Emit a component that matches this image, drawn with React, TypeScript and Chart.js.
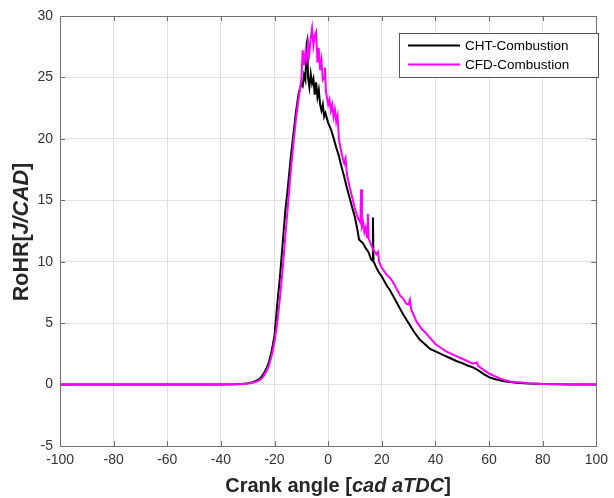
import React, { useEffect, useRef } from "react";
import { Chart, registerables } from "chart.js";

Chart.register(...registerables);

// Crank angle (cad aTDC) and rate of heat release (J/CAD)
const chtAngle = [
  -100, -60, -40, -35, -32, -30, -28, -26, -25, -24, -23, -22, -21, -20, -19, -18, -17, -16, -15, -14, -13, -12, -11, -10,
  -9.5, -9, -8.5, -8, -7.8, -7.5, -7, -6.5, -6, -5.5, -5, -4.5, -4, -3.5, -3, -2.5, -2, -1.5, -1, 0, 1, 2, 3, 4, 5, 6, 7,
  8, 9, 10, 11, 11.5, 12, 13, 14, 15, 16, 16.5, 16.7, 16.9, 17.2, 18, 19, 20, 21, 22, 23, 24, 25, 26, 27, 28, 30, 32, 34,
  36, 38, 40, 42, 44, 46, 48, 50, 52, 54, 56, 58, 60, 62, 64, 66, 68, 70, 75, 80, 90, 100,
];
const chtRoHR = [
  0, 0, 0, 0.02, 0.05, 0.1, 0.2, 0.4, 0.6, 0.9, 1.3, 1.9, 2.8, 4.0, 6.5, 8.7, 11.4, 14.1, 16.1, 18.4, 20.3, 22.2, 23.7, 24.5,
  24.3, 25.2, 24.8, 27.8, 28.0, 25.0, 24.2, 25.3, 24.5, 24.9, 23.6, 24.6, 23.4, 24.0, 22.8, 22.3, 22.8, 21.8, 22.1, 21.3,
  20.8, 20.1, 19.3, 18.6, 17.7, 16.9, 16.0, 15.2, 14.4, 13.6, 12.5, 11.8, 11.7, 11.5, 11.1, 10.8, 10.2, 10.1, 13.6, 10.0,
  9.9, 9.5, 9.1, 8.8, 8.4, 8.0, 7.7, 7.3, 6.9, 6.5, 6.1, 5.7, 5.0, 4.3, 3.7, 3.3, 2.9, 2.7, 2.5, 2.3, 2.1, 1.9, 1.75, 1.55,
  1.4, 1.15, 0.85, 0.6, 0.45, 0.35, 0.25, 0.2, 0.15, 0.08, 0.04, 0.01, 0,
];

const cfdAngle = [
  -100, -60, -40, -35, -32, -30, -28, -26, -25, -24, -23, -22, -21, -20, -19, -18, -17, -16, -15, -14, -13, -12, -11, -10,
  -9.5, -9, -8.5, -8, -7.5, -7, -6.5, -6, -5.5, -5, -4.5, -4, -3.5, -3, -2.5, -2, -1.5, -1.2, -0.8, 0, 0.5, 1, 1.5, 2, 2.5,
  3, 3.5, 4, 5, 6, 6.5, 7, 8, 9, 10, 11, 12, 12.3, 12.6, 13, 13.5, 14, 14.5, 14.8, 15.1, 16, 17, 18, 18.6, 19, 20, 21, 22,
  23, 24, 25, 26, 27, 28, 29, 30, 30.5, 31, 32, 33, 34, 35, 36, 38, 40, 42, 44, 46, 48, 50, 52, 54, 55.5, 56, 58, 60, 62,
  64, 66, 68, 70, 75, 80, 90, 100,
];
const cfdRoHR = [
  0, 0, 0, 0.02, 0.04, 0.08, 0.15, 0.3, 0.45, 0.7, 1.1, 1.6, 2.4, 3.5, 5.0, 7.0, 9.3, 12.0, 14.6, 17.2, 19.5, 21.6, 23.3,
  24.8, 27.2, 26.0, 27.0, 26.4, 27.8, 27.0, 28.2, 29.0, 27.6, 28.4, 28.7, 26.2, 27.4, 25.6, 26.4, 24.8, 25.0, 25.8, 23.8,
  22.8, 23.2, 22.3, 22.8, 21.8, 22.4, 21.4, 21.9, 20.0, 18.8, 18.0, 18.4, 17.1, 16.1, 15.2, 14.3, 13.6, 13.2, 15.9, 12.9,
  13.2, 12.4, 12.8, 12.0, 13.9, 11.9, 11.4, 10.9, 10.6, 10.8, 10.0, 9.5, 9.2, 8.9, 8.7, 8.4, 8.0, 7.6, 7.2, 7.0, 6.6, 6.5,
  6.9, 6.1, 5.6, 5.1, 4.8, 4.5, 4.3, 3.8, 3.3, 3.0, 2.7, 2.5, 2.3, 2.1, 1.9, 1.7, 1.8, 1.5, 1.2, 0.9, 0.7, 0.5, 0.35,
  0.25, 0.2, 0.1, 0.05, 0.02, 0,
];

const seriesNames = ["CHT-Combustion", "CFD-Combustion"];
const seriesColors = ["#000000", "#ff00ff"];
const xTitleParts = [
  { text: "Crank angle [", italic: false },
  { text: "cad aTDC", italic: true },
  { text: "]", italic: false },
];
const yTitleParts = [
  { text: "RoHR[", italic: false },
  { text: "J/CAD", italic: true },
  { text: "]", italic: false },
];

const FONT = "'Liberation Sans', Arial, Helvetica, sans-serif";
const AXIS_COLOR = "#6e6e6e";

function drawParts(ctx: CanvasRenderingContext2D, parts: { text: string; italic: boolean }[], size: number, cx: number, cy: number) {
  const fonts = parts.map((p) => `${p.italic ? "italic " : ""}bold ${size}px ${FONT}`);
  const widths = parts.map((p, i) => {
    ctx.font = fonts[i];
    return ctx.measureText(p.text).width;
  });
  const total = widths.reduce((a, b) => a + b, 0);
  let x = cx - total / 2;
  ctx.textAlign = "left";
  ctx.textBaseline = "middle";
  parts.forEach((p, i) => {
    ctx.font = fonts[i];
    ctx.fillText(p.text, x, cy);
    x += widths[i];
  });
}

const decorPlugin = {
  id: "matlabDecor",
  afterDraw(chart: any) {
    const ctx: CanvasRenderingContext2D = chart.ctx;
    const { left, right, top, bottom } = chart.chartArea;
    const xs = chart.scales.x;
    const ys = chart.scales.y;
    ctx.save();
    // box
    ctx.strokeStyle = AXIS_COLOR;
    ctx.lineWidth = 1;
    ctx.strokeRect(Math.round(left) + 0.5, Math.round(top) + 0.5, Math.round(right - left), Math.round(bottom - top));
    // inward ticks
    const tl = 5;
    ctx.beginPath();
    xs.ticks.forEach((t: any) => {
      const px = Math.round(xs.getPixelForValue(t.value)) + 0.5;
      ctx.moveTo(px, bottom);
      ctx.lineTo(px, bottom - tl);
      ctx.moveTo(px, top);
      ctx.lineTo(px, top + tl);
    });
    ys.ticks.forEach((t: any) => {
      const py = Math.round(ys.getPixelForValue(t.value)) + 0.5;
      ctx.moveTo(left, py);
      ctx.lineTo(left + tl, py);
      ctx.moveTo(right, py);
      ctx.lineTo(right - tl, py);
    });
    ctx.stroke();

    // axis titles
    ctx.fillStyle = "#262626";
    drawParts(ctx, xTitleParts, 20, 338, 486);
    ctx.save();
    ctx.translate(22, 232);
    ctx.rotate(-Math.PI / 2);
    drawParts(ctx, yTitleParts, 21.5, 0, 0);
    ctx.restore();

    // legend
    const lx = 399, ly = 33, lw = 199, lh = 44;
    ctx.fillStyle = "#ffffff";
    ctx.fillRect(lx, ly, lw, lh);
    ctx.strokeStyle = "#555555";
    ctx.lineWidth = 1;
    ctx.strokeRect(lx + 0.5, ly + 0.5, lw, lh);
    const rows = [45.5, 64.5];
    seriesNames.forEach((name, i) => {
      ctx.strokeStyle = seriesColors[i];
      ctx.lineWidth = 2;
      ctx.beginPath();
      ctx.moveTo(408, rows[i]);
      ctx.lineTo(460, rows[i]);
      ctx.stroke();
      ctx.fillStyle = "#000000";
      ctx.font = `13.5px ${FONT}`;
      ctx.textAlign = "left";
      ctx.textBaseline = "middle";
      ctx.fillText(name, 465, rows[i] + 0.5);
    });
    ctx.restore();
  },
};

export default function App() {
  const canvasRef = useRef<HTMLCanvasElement | null>(null);

  useEffect(() => {
    const canvas = canvasRef.current;
    if (!canvas) return;
    const cht = chtAngle.map((x, i) => ({ x, y: chtRoHR[i] }));
    const cfd = cfdAngle.map((x, i) => ({ x, y: cfdRoHR[i] }));
    const chart = new Chart(canvas, {
      type: "line",
      data: {
        datasets: [
          {
            label: seriesNames[1],
            data: cfd,
            borderColor: seriesColors[1],
            borderWidth: 2,
            pointRadius: 0,
            tension: 0,
            fill: false,
          },
          {
            label: seriesNames[0],
            data: cht,
            borderColor: seriesColors[0],
            borderWidth: 2,
            pointRadius: 0,
            tension: 0,
            fill: false,
          },
        ],
      },
      options: {
        animation: false,
        responsive: false,
        devicePixelRatio: 1,
        parsing: false as any,
        layout: { padding: { left: 0, top: 16, right: 13, bottom: 0 } },
        plugins: {
          legend: { display: false },
          tooltip: { enabled: false },
          title: { display: false },
        },
        scales: {
          x: {
            type: "linear",
            min: -100,
            max: 100,
            afterFit: (axis: any) => {
              axis.height = 52;
            },
            ticks: {
              stepSize: 20,
              autoSkip: false,
              maxRotation: 0,
              padding: 6,
              color: "#333333",
              font: { family: FONT, size: 14 },
            },
            grid: { color: "#e0e0e0", lineWidth: 1, drawTicks: false },
            border: { display: false },
          },
          y: {
            type: "linear",
            min: -5,
            max: 30,
            afterFit: (axis: any) => {
              axis.width = 60;
            },
            ticks: {
              stepSize: 5,
              padding: 7,
              color: "#333333",
              font: { family: FONT, size: 14 },
            },
            grid: { color: "#e0e0e0", lineWidth: 1, drawTicks: false },
            border: { display: false },
          },
        },
      },
      plugins: [decorPlugin],
    });
    return () => chart.destroy();
  }, []);

  return (
    <div style={{ position: "fixed", left: 0, top: 0, width: 614, height: 498, background: "#ffffff" }}>
      <canvas ref={canvasRef} width={614} height={498} style={{ display: "block", width: 614, height: 498 }} />
    </div>
  );
}
